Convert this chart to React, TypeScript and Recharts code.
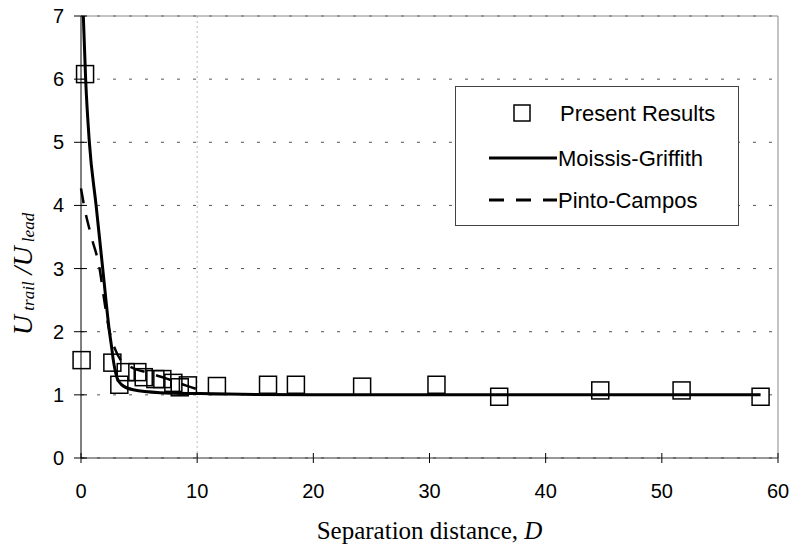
import { ComposedChart, Line, Scatter, XAxis, YAxis, CartesianGrid, ReferenceLine, Legend } from 'recharts';

// Present Results (square markers)
const presentD = [0.35, 0.05, 2.7, 3.3, 3.85, 4.85, 5.4, 6.4, 7.0, 7.95, 8.5, 9.2, 11.7, 16.1, 18.5, 24.2, 30.6, 36.0, 44.7, 51.7, 58.5];
const presentU = [6.08, 1.55, 1.51, 1.16, 1.36, 1.36, 1.28, 1.25, 1.25, 1.19, 1.12, 1.15, 1.14, 1.16, 1.16, 1.13, 1.16, 0.97, 1.07, 1.07, 0.97];

// Moissis-Griffith correlation (solid)
const moissisD = [0.2, 0.4, 0.72, 1.3, 1.87, 2.45, 2.64, 2.78, 2.95, 3.1, 3.5, 4.5, 6.8, 10.2, 15, 20, 58.5];
const moissisU = [7.0, 6.0, 5.0, 4.0, 3.0, 2.0, 1.75, 1.55, 1.38, 1.27, 1.16, 1.08, 1.035, 1.02, 1.005, 1.0, 1.0];

// Pinto-Campos correlation (dashed)
const pintoD = [0, 0.26, 0.9, 1.6, 2.0, 2.4, 2.9, 3.5, 4.2, 4.8, 5.65, 6.8, 7.66, 9.0, 10.0];
const pintoU = [4.27, 4.0, 3.5, 3.0, 2.5, 2.05, 1.74, 1.53, 1.45, 1.4, 1.36, 1.29, 1.24, 1.15, 1.09];

const xTicks = [0, 10, 20, 30, 40, 50, 60];
const yTicks = [0, 1, 2, 3, 4, 5, 6, 7];

const present = presentD.map((d, i) => ({ D: d, U: presentU[i] }));
const moissis = moissisD.map((d, i) => ({ D: d, U: moissisU[i] }));
const pinto = pintoD.map((d, i) => ({ D: d, U: pintoU[i] }));

const SANS = '"Liberation Sans", Arial, sans-serif';
const SERIF = '"Liberation Serif", "Times New Roman", serif';

// plot frame edges (px): left axis and bottom axis
const AXIS_X = 81;
const AXIS_Y = 458;

const Square = (props: any) => {
  const { cx, cy } = props;
  if (cx == null || cy == null) return null;
  return <rect x={cx - 8.5} y={cy - 8.5} width={17} height={17} fill="none" stroke="#000" strokeWidth={1.5} />;
};

// cross-style tick marks, drawn on both sides of the axis line
const XTick = (props: any) => {
  const { x, payload } = props;
  return (
    <g>
      <line x1={x} x2={x} y1={AXIS_Y - 5} y2={AXIS_Y + 5} stroke="#000" />
      <text x={x} y={AXIS_Y + 40} textAnchor="middle" fontSize={20} fontFamily={SANS} fill="#000">
        {payload.value}
      </text>
    </g>
  );
};

const YTick = (props: any) => {
  const { y, payload } = props;
  return (
    <g>
      <line x1={AXIS_X - 7} x2={AXIS_X + 6} y1={y} y2={y} stroke="#000" />
      <text x={AXIS_X - 17} y={y + 7} textAnchor="end" fontSize={20} fontFamily={SANS} fill="#000">
        {payload.value}
      </text>
    </g>
  );
};

const XTitle = (props: any) => {
  const { viewBox } = props;
  const cx = viewBox.x + viewBox.width / 2;
  return (
    <text x={cx} y={539} textAnchor="middle" fontSize={25} fontFamily={SERIF} fill="#000">
      Separation distance, <tspan fontStyle="italic">D</tspan>
    </text>
  );
};

const YTitle = () => {
  const cx = 32;
  const cy = 274;
  return (
    <text x={cx} y={cy} transform={`rotate(-90, ${cx}, ${cy})`} textAnchor="middle" fontFamily={SERIF} fontStyle="italic" fill="#000">
      <tspan fontSize={28}>U</tspan>
      <tspan fontSize={17} dy={2}> trail</tspan>
      <tspan fontSize={28} dy={-2}> /U</tspan>
      <tspan fontSize={17} dy={2}> lead</tspan>
    </text>
  );
};

const LegendBox = () => (
  <div
    style={{
      width: 282,
      height: 138,
      border: '1px solid #444',
      background: '#fff',
      position: 'relative',
    }}
  >
    <svg width={282} height={138} style={{ position: 'absolute', left: 0, top: 0 }}>
      <rect x={58} y={18} width={16} height={16} fill="none" stroke="#000" strokeWidth={1.5} />
      <text x={104} y={34} fontSize={22} fontFamily={SANS}>Present Results</text>
      <line x1={33} x2={101} y1={71} y2={71} stroke="#000" strokeWidth={3} />
      <text x={102} y={79} fontSize={22} fontFamily={SANS}>Moissis-Griffith</text>
      <line x1={33} x2={101} y1={113} y2={113} stroke="#000" strokeWidth={3} strokeDasharray="15 12" />
      <text x={102} y={121} fontSize={22} fontFamily={SANS}>Pinto-Campos</text>
    </svg>
  </div>
);

export default function App() {
  return (
    <div style={{ position: 'absolute', left: 0, top: 0, background: '#fff' }}>
      <ComposedChart width={807} height={549} margin={{ top: 16, right: 29, left: 0, bottom: 0 }}>
        <CartesianGrid vertical={false} stroke="#555" strokeDasharray="3 13" />
        <XAxis
          type="number"
          dataKey="D"
          domain={[0, 60]}
          ticks={xTicks}
          height={91}
          tickLine={false}
          tick={<XTick />}
          axisLine={{ stroke: '#333' }}
          label={<XTitle />}
        />
        <YAxis
          type="number"
          dataKey="U"
          domain={[0, 7]}
          ticks={yTicks}
          width={81}
          tickLine={false}
          tick={<YTick />}
          axisLine={{ stroke: '#000' }}
          label={<YTitle />}
        />
        <ReferenceLine x={10} stroke="#bbb" strokeDasharray="2 3" />
        <ReferenceLine y={7} stroke="#888" />
        <ReferenceLine x={60} stroke="#888" />
        <Legend
          layout="vertical"
          align="center"
          verticalAlign="middle"
          content={<LegendBox />}
          wrapperStyle={{ left: 455, top: 86, width: 284, height: 140 }}
        />
        <Line
          data={pinto}
          dataKey="U"
          type="monotone"
          stroke="#000"
          strokeWidth={2.5}
          strokeDasharray="15 12"
          dot={false}
          isAnimationActive={false}
        />
        <Line
          data={moissis}
          dataKey="U"
          type="monotone"
          stroke="#000"
          strokeWidth={3}
          dot={false}
          isAnimationActive={false}
        />
        <Scatter data={present} dataKey="U" shape={<Square />} isAnimationActive={false} />
      </ComposedChart>
    </div>
  );
}
